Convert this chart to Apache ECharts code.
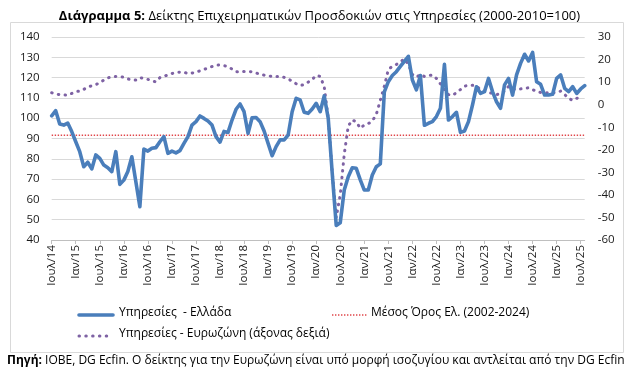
<!DOCTYPE html>
<html><head><meta charset="utf-8">
<script src="https://cdn.jsdelivr.net/npm/echarts@6/dist/echarts.min.js"></script>
<style>html,body{margin:0;padding:0;background:#fff}#c{width:639px;height:386px}</style>
</head><body><div id="c"></div>
<script>
// ---- data ----
const monthNames = ['Ιαν','Φεβ','Μαρ','Απρ','Μαϊ','Ιουν','Ιουλ','Αυγ','Σεπ','Οκτ','Νοε','Δεκ'];
const startYear = 2014, startMonth = 6, nMonths = 134; // Jul 2014 .. Aug 2025
const categories = [];
for (let i = 0; i < nMonths; i++) {
  const mm = (startMonth + i) % 12;
  const yy = startYear + Math.floor((startMonth + i) / 12);
  categories.push(monthNames[mm] + '/' + String(yy).slice(2));
}
const greece = [
101.2,103.7,97.1,96.6,97.6,93.4,88.4,83.5,76.1,78.3,75.0,81.9,
80.2,76.9,75.6,73.7,83.5,67.4,69.5,73.7,81.0,68.7,56.4,84.8,
83.8,85.2,85.5,88.4,90.9,82.7,83.8,82.9,84.0,87.6,90.9,96.6,
98.3,101.1,99.9,98.6,96.6,90.9,88.2,93.5,93.0,99.1,104.4,107.0,
103.2,92.5,100.2,100.3,98.3,93.7,87.6,81.5,86.0,89.3,89.3,91.7,
103.2,109.8,109.0,102.9,102.4,104.5,107.3,103.2,111.0,100.0,73.0,47.2,
48.5,64.6,71.2,75.6,75.3,69.6,64.6,64.6,72.0,76.1,77.5,113.0,
118.0,121.0,122.9,125.5,128.0,130.5,118.8,114.0,121.0,96.5,97.5,98.3,
100.8,104.9,126.5,99.1,100.8,102.9,93.0,93.7,98.3,106.5,115.5,112.2,
113.1,119.6,113.1,108.1,104.9,116.4,119.6,111.4,121.3,127.0,131.5,128.2,
132.4,118.0,116.7,111.4,111.4,111.8,119.6,121.3,114.7,113.1,115.5,112.2,
114.4,116.0];
const eurozone = [
5.3,4.8,4.4,4.3,4.2,5.0,5.8,6.0,6.8,7.8,8.4,8.9,
9.7,10.9,11.9,12.3,12.5,12.4,12.2,11.4,11.1,10.9,12.0,11.6,
11.2,10.6,10.1,12.0,12.6,13.2,13.8,14.3,14.4,14.4,13.8,14.0,
14.4,15.0,15.6,16.3,16.9,17.5,17.6,17.3,16.8,15.8,14.6,14.5,
14.7,14.7,14.6,14.0,13.6,13.1,12.9,12.4,12.5,12.5,12.1,11.5,
10.3,9.3,8.5,8.9,10.0,11.2,13.0,12.5,8.0,-6.0,-30.0,-50.0,
-40.0,-22.0,-9.5,-6.8,-7.6,-10.5,-9.0,-8.4,-7.3,-4.3,1.9,8.2,
15.6,17.0,17.8,19.0,20.3,17.8,13.4,12.2,13.4,12.5,12.9,13.1,
11.6,9.2,6.7,4.5,4.1,5.3,6.7,8.2,8.6,8.6,8.2,6.7,
6.0,5.4,5.0,4.5,4.8,6.0,8.1,7.0,6.7,7.0,7.2,7.5,
6.6,6.0,5.4,5.3,5.3,5.3,5.4,6.0,4.5,2.8,1.9,2.8,
3.3,null];
const avgGreece = 91.6;
const leftTicks = {min: 40, max: 140, interval: 10};
const rightTicks = {min: -60, max: 30, interval: 10};
const seriesNames = ['Υπηρεσίες  - Ελλάδα', 'Μέσος Όρος Ελ. (2002-2024)', 'Υπηρεσίες - Ευρωζώνη (άξονας δεξιά)'];
const titleBold = 'Διάγραμμα 5:';
const titleRest = ' Δείκτης Επιχειρηματικών Προσδοκιών στις Υπηρεσίες (2000-2010=100)';
const sourceBold = 'Πηγή:';
const sourceRest = ' IOBE, DG Ecfin. Ο δείκτης για την Ευρωζώνη είναι υπό μορφή ισοζυγίου και αντλείται από την DG Ecfin';

// ---- chart ----
const FONT = 'Open Sans';
const BLUE = '#4A7EBB', PURPLE = '#7E62A4', RED = '#E0464A';
const chart = echarts.init(document.getElementById('c'), null, {renderer: 'canvas'});
const avgData = categories.map(() => avgGreece);
chart.setOption({
  animation: false,
  textStyle: {fontFamily: FONT},
  title: {
    text: '{b|' + titleBold + '}{r|' + titleRest + '}',
    left: 'center', top: 5,
    textStyle: {rich: {
      b: {fontFamily: FONT, fontSize: 13, fontWeight: 'bold', color: '#000'},
      r: {fontFamily: FONT, fontSize: 13, fontWeight: 'normal', color: '#000'}
    }}
  },
  grid: {left: 51.7, right: 54.3, top: 37, height: 203, containLabel: false},
  xAxis: {
    type: 'category', data: categories, boundaryGap: false,
    axisLine: {onZero: false, lineStyle: {color: '#BFBFBF'}},
    axisTick: {interval: 5, length: 4, lineStyle: {color: '#BFBFBF'}},
    axisLabel: {interval: 5, rotate: 90, fontSize: 11.5, color: '#1a1a1a', margin: 5, fontFamily: FONT},
    splitLine: {show: false}
  },
  yAxis: [
    {type: 'value', min: leftTicks.min, max: leftTicks.max, interval: leftTicks.interval,
     axisLine: {show: false}, axisTick: {show: false},
     axisLabel: {fontSize: 11.5, color: '#1a1a1a', margin: 12, fontFamily: FONT},
     splitLine: {lineStyle: {color: '#D9D9D9', width: 1}}},
    {type: 'value', min: rightTicks.min, max: rightTicks.max, interval: rightTicks.interval, position: 'right',
     axisLine: {show: false}, axisTick: {show: false},
     axisLabel: {fontSize: 11.5, color: '#1a1a1a', margin: 13, fontFamily: FONT},
     splitLine: {show: false}}
  ],
  series: [
    {name: seriesNames[1], type: 'line', data: avgData, yAxisIndex: 0, symbol: 'none', z: 2,
     lineStyle: {color: RED, width: 1.4, type: [1.4, 1.6]}},
    {name: seriesNames[2], type: 'line', data: eurozone, yAxisIndex: 1, symbol: 'none', z: 3,
     lineStyle: {color: PURPLE, width: 3, type: [0.5, 6.3], cap: 'round'}},
    {name: seriesNames[0], type: 'line', data: greece, yAxisIndex: 0, symbol: 'none', z: 4,
     lineStyle: {color: BLUE, width: 3.6, join: 'round', cap: 'round'}}
  ],
  graphic: [
    {type: 'rect', shape: {x: 10.5, y: 22.5, width: 613, height: 330}, style: {fill: 'none', stroke: '#D9D9D9', lineWidth: 1}, silent: true},
    {type: 'line', shape: {x1: 79, y1: 315, x2: 113, y2: 315}, style: {stroke: BLUE, lineWidth: 3.6, lineCap: 'round'}},
    {type: 'text', left: 119, top: 307, style: {text: seriesNames[0], font: '12px "Open Sans"', fill: '#000'}},
    {type: 'line', shape: {x1: 332, y1: 315, x2: 368, y2: 315}, style: {stroke: RED, lineWidth: 1.4, lineDash: [1.4, 1.6]}},
    {type: 'text', left: 371, top: 307, style: {text: seriesNames[1], font: '12px "Open Sans"', fill: '#000'}},
    {type: 'line', shape: {x1: 79, y1: 336, x2: 111, y2: 336}, style: {stroke: PURPLE, lineWidth: 3, lineDash: [0.5, 6.3], lineCap: 'round'}},
    {type: 'text', left: 119, top: 328, style: {text: seriesNames[2], font: '12px "Open Sans"', fill: '#000'}},
    {type: 'text', left: 7, top: 355, style: {
      text: '{b|' + sourceBold + '}{r|' + sourceRest + '}',
      rich: {b: {fontFamily: FONT, fontSize: 12, fontWeight: 'bold', fill: '#000'},
             r: {fontFamily: FONT, fontSize: 12, fill: '#000'}}}}
  ]
});
</script></body></html>
